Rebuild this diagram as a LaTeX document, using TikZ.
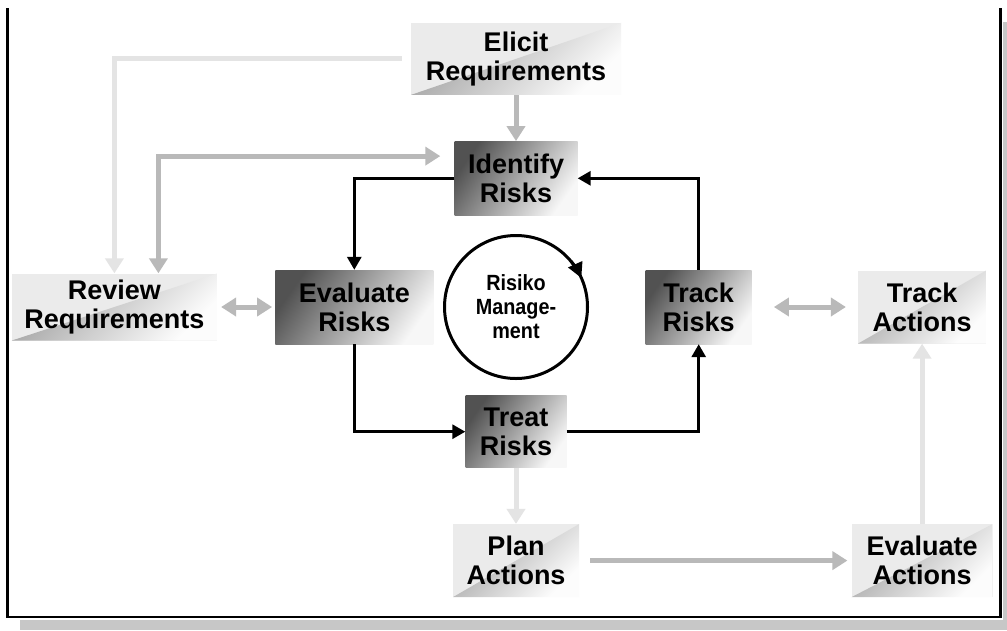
\documentclass[tikz,border=0pt]{standalone}
\usepackage{fontspec}
\setmainfont{Liberation Sans}
\newfontfamily\narrowsf[FakeStretch=0.9]{Liberation Sans}
\usetikzlibrary{arrows.meta,positioning}

\definecolor{boxlt}{HTML}{EBEBEB}
\definecolor{arrmid}{HTML}{B9B9B9}
\definecolor{arrlt}{HTML}{E4E4E4}

\begin{document}
\begin{tikzpicture}[
  x=1pt, y=-1pt, >={Triangle[length=13pt,width=14pt]},
  font=\fontsize{27}{29}\selectfont\bfseries,
  D/.style={minimum width=#1, minimum height=74pt, inner sep=0pt, align=center,
            top color=black!68, bottom color=black!3, shading angle=55},
  L/.style={minimum width=#1, minimum height=73pt, inner sep=0pt, align=center,
            path picture={
              \fill[boxlt] (path picture bounding box.south west)
                rectangle (path picture bounding box.north east);
              \shade[top color=black!38, bottom color=black!1, shading angle=45]
                (path picture bounding box.south west)
                -- (path picture bounding box.north east)
                -- (path picture bounding box.south east) -- cycle;}},
  bk/.style={->, line width=3pt},
  gr/.style={line width=5pt, draw=#1, >={Triangle[length=15pt,width=18pt]}},
]
% frame with drop shadow
\useasboundingbox (0,0) rectangle (1007,630);
\fill[black!22] (20,22) rectangle (1007,630);
\fill[white] (0,0) rectangle (1003,620);
\draw[line width=2.5pt] (7.5,8) |- (1000.5,617) -- (1000.5,8);

\node[circle, draw, line width=3pt, minimum size=143pt, inner sep=0pt, outer sep=0pt,
      font=\narrowsf\bfseries\fontsize{22}{24}\selectfont, align=center]
      (mgmt) at (516,307) {Risiko\\Manage-\\ment};

\node[D=123, above=20pt of mgmt] (ident) {Identify\\Risks};
\node[L=210, above=46pt of ident, minimum height=72pt] (elicit) {Elicit\\Requirements};
\node[D=101, below=17pt of mgmt, minimum height=72pt] (treat) {Treat\\Risks};
\node[L=126, below=56pt of treat] (plan) {Plan\\Actions};
\node[D=158, left=11pt of mgmt] (evalr) {Evaluate\\Risks};
\node[L=205, left=58pt of evalr, minimum height=67pt] (review) {Review\\Requirements};
\node[D=106, right=58pt of mgmt] (trackr) {Track\\Risks};
\node[L=128, right=106pt of trackr] (tracka) {Track\\Actions};
\node[L=141] (evala) at (tracka |- plan) {Evaluate\\Actions};

% black risk loop
\draw[bk] (ident.west) -| (evalr.north);
\draw[bk] (evalr.south) |- (treat.west);
\draw[bk] (treat.east) -| (trackr.south);
\draw[bk] (trackr.north) |- (ident.east);
\draw[bk, >={Triangle[length=15pt,width=15pt]}] (mgmt.40) arc[start angle=-40, end angle=-24, radius=71.5];

% grey links
\draw[gr=arrmid, ->] (elicit) -- (ident);
\draw[gr=arrlt, ->, shorten <=9pt] (elicit.west) -| (review.north);
\draw[gr=arrmid, <->, shorten >=14pt] ([xshift=44pt]review.north)
    |- ([yshift=-15pt]ident.north west);
\draw[gr=arrmid, <->, shorten <=4pt, shorten >=3pt] (review) -- (evalr);
\draw[gr=arrmid, <->, shorten <=22pt, shorten >=12pt] (trackr) -- (tracka);
\draw[gr=arrlt, ->] (treat) -- (plan);
\draw[gr=arrmid, ->, shorten <=11pt, shorten >=4pt] (plan) -- (evala);
\draw[gr=arrlt, ->] (evala) -- (tracka);

\end{tikzpicture}
\end{document}
